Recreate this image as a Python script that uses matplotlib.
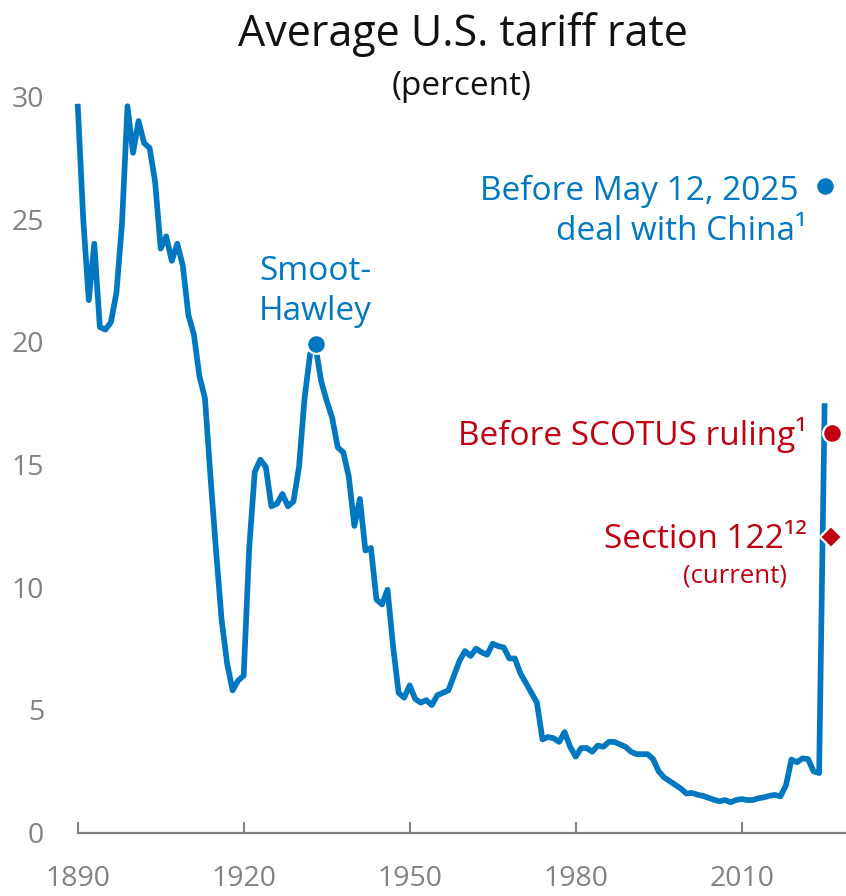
import matplotlib
matplotlib.use("Agg")
import matplotlib.pyplot as plt

plt.rcParams['font.family'] = ['Open Sans', 'DejaVu Sans']

years = list(range(1890, 2026))
tariff = [
    29.7, 25.0, 21.7, 24.0, 20.6, 20.5, 20.8, 22.0, 24.8, 29.6,   # 1890-1899
    27.7, 29.0, 28.1, 27.9, 26.5, 23.8, 24.3, 23.3, 24.0, 23.1,   # 1900-1909
    21.1, 20.3, 18.6, 17.7, 14.5, 11.5, 8.7, 6.9, 5.8, 6.2,       # 1910-1919
    6.4, 11.6, 14.7, 15.2, 14.9, 13.3, 13.4, 13.8, 13.3, 13.5,    # 1920-1929
    14.9, 17.7, 19.5, 19.8, 18.4, 17.6, 16.9, 15.7, 15.5, 14.5,   # 1930-1939
    12.5, 13.6, 11.5, 11.6, 9.5, 9.3, 9.9, 7.6, 5.7, 5.5,         # 1940-1949
    6.0, 5.45, 5.3, 5.4, 5.2, 5.6, 5.7, 5.8, 6.4, 7.0,            # 1950-1959
    7.4, 7.2, 7.5, 7.35, 7.25, 7.7, 7.6, 7.55, 7.1, 7.1,          # 1960-1969
    6.5, 6.1, 5.7, 5.3, 3.8, 3.9, 3.85, 3.7, 4.1, 3.5,            # 1970-1979
    3.1, 3.45, 3.45, 3.3, 3.55, 3.5, 3.7, 3.7, 3.6, 3.5,          # 1980-1989
    3.3, 3.2, 3.2, 3.2, 3.0, 2.5, 2.25, 2.1, 1.95, 1.8,           # 1990-1999
    1.6, 1.62, 1.55, 1.5, 1.42, 1.34, 1.28, 1.33, 1.24, 1.33,     # 2000-2009
    1.37, 1.33, 1.33, 1.4, 1.44, 1.5, 1.54, 1.48, 1.92, 2.98,     # 2010-2019
    2.87, 3.03, 3.0, 2.5, 2.43, 17.5,                             # 2020-2025
]

smoot_year, smoot_value = 1933, 19.9
china_year, china_value = 2025, 26.35
scotus_year, scotus_value = 2026.25, 16.3
sec122_year, sec122_value = 2026.15, 12.05

x_ticks = [1890, 1920, 1950, 1980, 2010]
y_ticks = [0, 5, 10, 15, 20, 25, 30]

BLUE = '#0078C1'
RED = '#C00010'
GRAY = '#828282'

fig = plt.figure(figsize=(8.46, 8.96), dpi=100)
ax = fig.add_axes([0.09184, 0.07065, 1 - 0.09184, 0.8491])
ax.set_xlim(1890, 2028.86)
ax.set_ylim(0, 31)

ax.plot(years, tariff, color=BLUE, lw=4.1, solid_joinstyle='round',
        solid_capstyle='butt', zorder=2, clip_on=False)

mk = dict(markeredgecolor='white', markeredgewidth=1.6, zorder=4,
          clip_on=False, linestyle='none')
ax.plot([smoot_year], [smoot_value], marker='o', ms=13.5, color=BLUE, **mk)
ax.plot([china_year], [china_value], marker='o', ms=13.5, color=BLUE, **mk)
ax.plot([scotus_year], [scotus_value], marker='o', ms=13.5, color=RED, **mk)
ax.plot([sec122_year], [sec122_value], marker='D', ms=11, color=RED, **mk)

for s in ['top', 'right', 'left']:
    ax.spines[s].set_visible(False)
ax.spines['bottom'].set_color(GRAY)
ax.spines['bottom'].set_linewidth(1.6)

ax.set_xticks(x_ticks)
ax.set_xticklabels([str(v) for v in x_ticks])
ax.set_yticks(y_ticks)
ax.set_yticklabels([str(v) for v in y_ticks])
ax.tick_params(axis='x', direction='in', length=8, width=1.5, color=GRAY,
               labelsize=20.5, labelcolor=GRAY, pad=23)
ax.tick_params(axis='y', length=0, labelsize=20.5, labelcolor=GRAY, pad=24.3)

# titles (pixel baselines converted to figure fraction)
W, H = 846, 896
fig.text(463 / W, 1 - 46 / H, 'Average U.S. tariff rate', ha='center',
         va='baseline', fontsize=31, color='#111111')
fig.text(462 / W, 1 - 95 / H, '(percent)', ha='center', va='baseline',
         fontsize=24, color='#111111')

def px2data(px, py):
    return 1890 + (px - 77.7) / 5.533, (832.7 - py) / 24.54

def label(px, py, s, color, ha, size=24):
    x, y = px2data(px, py)
    ax.text(x, y, s, color=color, ha=ha, va='baseline', fontsize=size,
            clip_on=False, zorder=5)

label(315, 280, 'Smoot-', BLUE, 'center')
label(315, 320, 'Hawley', BLUE, 'center')
label(799, 200, 'Before May 12, 2025', BLUE, 'right')
label(807, 240, 'deal with China\u00b9', BLUE, 'right')
label(807, 445, 'Before SCOTUS ruling\u00b9', RED, 'right')
label(807, 548, 'Section 122\u00b9\u00b2', RED, 'right')
label(787, 583, '(current)', RED, 'right', size=18.5)

fig.savefig('out.png', dpi=100)
